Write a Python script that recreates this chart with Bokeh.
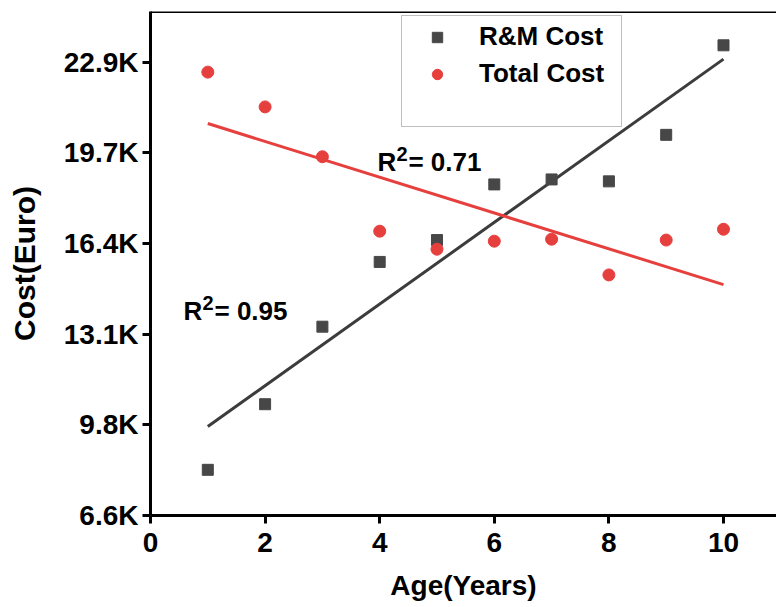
import numpy as np
from bokeh.plotting import figure
from bokeh.models import (Range1d, FixedTicker, Legend, LegendItem, Label, Span)
from bokeh.embed import file_html
from bokeh.resources import INLINE

# ---- data ----
age = [1, 2, 3, 4, 5, 6, 7, 8, 9, 10]
rm_cost = [8200, 10570, 13370, 15710, 16500, 18510, 18690, 18620, 20300, 23535]
total_cost = [22566, 21310, 19510, 16820, 16170, 16460, 16530, 15240, 16500, 16890]
y_tick_values = [6550, 9825, 13100, 16375, 19650, 22925]
y_tick_labels = ["6.6K", "9.8K", "13.1K", "16.4K", "19.7K", "22.9K"]
x_tick_values = [0, 2, 4, 6, 8, 10]
r2_rm = "0.95"
r2_total = "0.71"

FONT = "Liberation Sans"
GRAY = "#474747"
RED = "#e6403e"

y_start, y_end = 6550, 24756
p = figure(width=776, height=603, output_backend="svg", toolbar_location=None,
           x_range=Range1d(0, 10.925), y_range=Range1d(y_start, y_end),
           min_border_left=150, min_border_right=0, min_border_top=11,
           min_border_bottom=85)
p.outline_line_color = None
p.grid.visible = False
p.background_fill_color = "white"

for ax in (p.xaxis[0], p.yaxis[0]):
    ax.axis_line_width = 3
    ax.axis_line_color = "black"
    ax.major_tick_line_width = 3
    ax.major_tick_line_color = "black"
    ax.major_tick_out = 8
    ax.major_tick_in = 0
    ax.minor_tick_line_color = None
    ax.major_label_text_font = FONT
    ax.major_label_text_font_style = "bold"
    ax.major_label_text_font_size = "28px"
    ax.major_label_text_color = "black"
    ax.axis_label_text_font = FONT
    ax.axis_label_text_font_style = "bold"
    ax.axis_label_text_color = "black"

p.xaxis.ticker = FixedTicker(ticks=x_tick_values)
p.xaxis.axis_label = "Age(Years)"
p.xaxis.axis_label_text_font_size = "28px"
p.xaxis.major_label_standoff = 9
p.xaxis.axis_label_standoff = 15
p.yaxis.ticker = FixedTicker(ticks=y_tick_values)
p.yaxis.major_label_overrides = {v: l for v, l in zip(y_tick_values, y_tick_labels)}
p.yaxis.axis_label = "Cost(Euro)"
p.yaxis.axis_label_text_font_size = "30px"
p.yaxis.major_label_standoff = 4
p.yaxis.axis_label_standoff = 20

# top border line
p.add_layout(Span(location=y_end, dimension="width", line_color="black", line_width=3))

# regression lines
xa = np.array(age, dtype=float)
k1, b1 = np.polyfit(xa, np.array(rm_cost, dtype=float), 1)
k2, b2 = np.polyfit(xa, np.array(total_cost, dtype=float), 1)
xl = [min(age), max(age)]
p.line(xl, [k1 * v + b1 for v in xl], line_color="#3c3c3c", line_width=3)
p.line(xl, [k2 * v + b2 for v in xl], line_color=RED, line_width=3)

r1 = p.scatter(age, rm_cost, marker="square", size=11, fill_color=GRAY, line_color=GRAY)
r2 = p.scatter(age, total_cost, marker="circle", size=12, fill_color=RED, line_color=RED)
dummy = p.scatter(x=[], y=[], marker="circle", size=1, fill_alpha=0, line_alpha=0)

legend = Legend(items=[LegendItem(label="R&M Cost", renderers=[r1]),
                       LegendItem(label="Total Cost", renderers=[r2]),
                       LegendItem(label=" ", renderers=[dummy])],
                location=(251, 388),
                glyph_width=60, glyph_height=26, label_standoff=12,
                padding=5, spacing=6, label_width=137, label_height=26,
                label_text_font=FONT, label_text_font_style="bold",
                label_text_font_size="26px", label_text_color="black",
                border_line_color="#808080", border_line_width=1.5,
                background_fill_alpha=1, margin=0)
p.add_layout(legend, "center")

# R^2 annotations
def r2_label(xd, yd, val):
    kw = dict(text_font=FONT, text_font_style="bold", text_color="black",
              text_baseline="alphabetic", x=xd, y=yd)
    p.add_layout(Label(text="R", text_font_size="26px", **kw))
    p.add_layout(Label(text="2", text_font_size="20px", x_offset=19, y_offset=8, **kw))
    p.add_layout(Label(text="= " + val, text_font_size="26px", x_offset=31, **kw))

r2_label(3.96, 19334, r2_total)
r2_label(0.576, 13947, r2_rm)

open("out.html", "w").write(file_html(p, INLINE))
